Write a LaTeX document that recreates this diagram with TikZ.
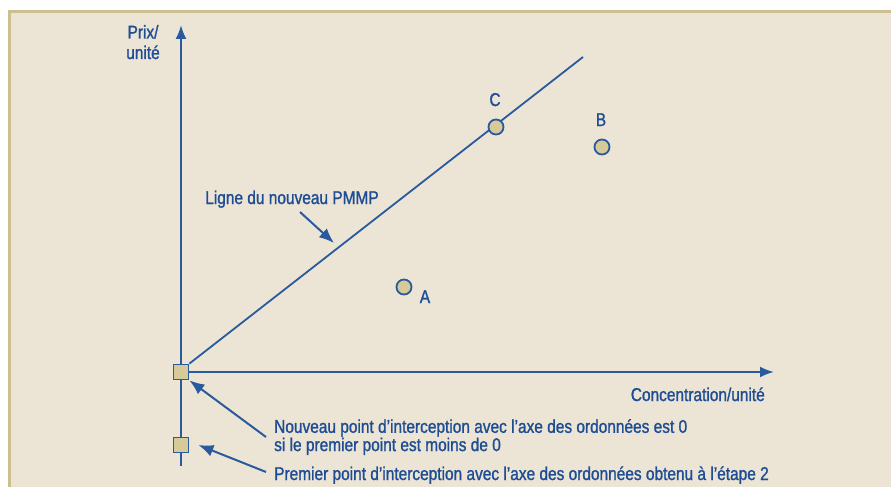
\documentclass[tikz,border=0pt]{standalone}
\usepackage{fontspec}
\setmainfont{Liberation Sans}[FakeStretch=0.835,FakeBold=1.2]
\usetikzlibrary{arrows.meta}
\definecolor{panelfill}{HTML}{ECE5D5}
\definecolor{panelborder}{HTML}{CDBF8E}
\definecolor{ink}{HTML}{2A5A9E}
\definecolor{txt}{HTML}{1E4D94}
\definecolor{dotfill}{HTML}{D6CB98}
\tikzset{
  axis/.style={ink, line width=2.2pt, -{Latex[length=14pt,width=11pt]}},
  pmmp/.style={ink, line width=1.8pt},
  pointer/.style={ink, line width=2pt, -{Latex[length=15pt,width=12pt]}},
  dot/.style={circle, draw=ink, line width=1.8pt, fill=dotfill, minimum size=15pt, inner sep=0pt},
  sq/.style={rectangle, draw=ink, line width=1.8pt, fill=dotfill, minimum size=15pt, inner sep=0pt},
  lab/.style={txt, font=\fontsize{18.5}{16.5}\selectfont, inner sep=0pt},
}
\begin{document}
\begin{tikzpicture}[x=1pt,y=-1pt]
\useasboundingbox (0,0) rectangle (891,487);
\fill[panelfill] (9,12) rectangle (891,487);
\draw[panelborder, line width=3pt] (9,487) -- (9,12) -- (891,12);
% axes
\coordinate (ybot) at (181,466);
\coordinate (ytop) at (181,25);
\coordinate (xend) at (774,372);
\draw[axis] (ybot) -- (ytop);
\node[sq] (o) at (181,372) {};
\draw[axis] (o.center) -- (xend);
\node[sq] (p) at (181,445) {};
% PMMP line
\coordinate (lend) at (583,57);
\draw[pmmp] (o.north east) -- (lend);
\node[sq] at (181,372) {};
% points
\node[dot] (C) at (496,127) {};
\node[dot] (B) at (602,147) {};
\node[dot] (A) at (404,287) {};
\node[lab, anchor=base] (Cl) at (495,106) {C};
\node[lab, anchor=base] (Bl) at (601,126) {B};
\node[lab, anchor=base] (Al) at (425,303) {A};
% labels
\node[lab, align=center, anchor=base] (yl) at (143,59) {Prix/\\[4pt]unité};
\node[lab, anchor=base east] (xl) at (765,401) {Concentration/unité};
\node[lab, anchor=base] (ll) at (292,204) {Ligne du nouveau PMMP};
\coordinate (la) at (334,243);
\draw[pointer] (300,212) -- (la);
\node[lab, align=left, anchor=north west] (n1) at (274,419)
  {Nouveau point d’interception avec l’axe des ordonnées est 0\\si le premier point est moins de 0};
\node[lab, anchor=base west] (n2) at (274,480)
  {Premier point d’interception avec l’axe des ordonnées obtenu à l’étape 2};
\draw[pointer] (266,437) -- (o.south east);
\draw[pointer] (266,472) -- ([xshift=9pt]p.east);
\end{tikzpicture}
\end{document}
